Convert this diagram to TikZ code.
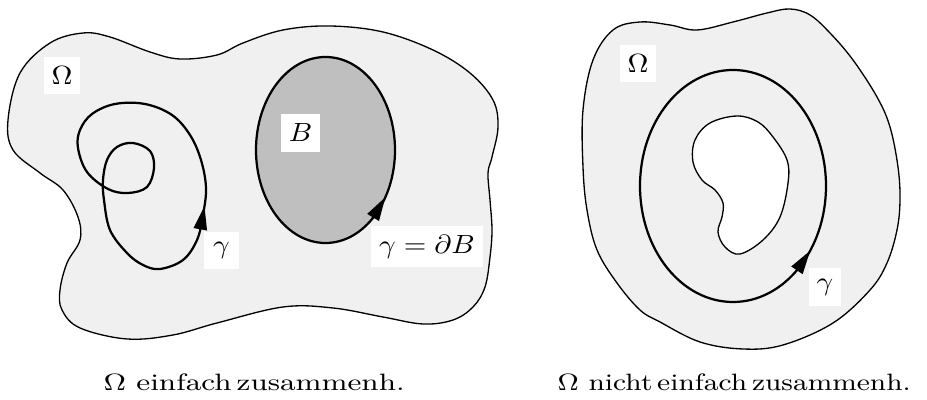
\documentclass[tikz,border=0pt]{standalone}
\usetikzlibrary{arrows.meta,calc}
\begin{document}
\begin{tikzpicture}[x=0.38pt,y=-0.38pt,
    gebiet/.style={fill=black!6,draw,line width=0.5pt},
    kurve/.style={line width=0.85pt},
    pfeil/.style={line width=0.85pt,-{Triangle[length=9pt,width=5pt]}},
    lbl/.style={fill=white,inner xsep=3pt,minimum width=13.3pt,minimum height=14.4pt},
    unter/.style={anchor=base west,inner sep=0pt,font=\fontsize{9pt}{11pt}\selectfont}]
    \useasboundingbox (0,0) rectangle (927,400);
    % links: einfach zusammenhaengend
    \draw[gebiet] plot[smooth cycle,tension=0.6] coordinates {(8,120)(20,73)(50,43)(83,33)(110,37)(150,52)(180,59)(217,55)(243,43)(283,30)(330,26)(383,32)(433,50)(470,73)(493,100)(498,127)(492,157)(488,173)(490,200)(492,230)(490,257)(485,287)(473,307)(453,320)(423,324)(383,317)(333,308)(283,307)(217,323)(173,335)(127,339)(80,328)(62,310)(60,290)(67,263)(80,240)(78,217)(63,190)(40,173)(13,150)};
    \coordinate (bmitte) at (325.5,150);
    \draw[kurve,fill=black!25] (bmitte) ellipse [x radius=69.5,y radius=93];
    \draw[pfeil] ($(bmitte)+(47.5:69.5 and 93)$) -- ($(bmitte)+(30.5:69.5 and 93)$);
    \draw[kurve] plot[smooth cycle,tension=0.6] coordinates {(160,269)(183,260)(197,240)(203,215)(206,188)(201,160)(190,135)(172,115)(145,104)(115,104)(92,114)(80,130)(78,148)(87,172)(108,189)(128,193)(147,187)(154,168)(150,151)(133,143)(117,147)(107,160)(103,180)(104,200)(110,230)(127,253)(143,265)};
    \draw[pfeil] (200.5,228) -- (204.5,206);
    \node[lbl] (omegaL) at (62,75.5) {\scalebox{1.1}[1]{$\Omega$}};
    \node[lbl] (bname) at (300.5,133) {\scalebox{1.1}[1]{$B$}};
    \node[lbl] (gammaL) at (221.5,250.5) {\scalebox{1.1}[1]{$\gamma$}};
    \node[lbl] (gammaB) at (427,246.5) {\scalebox{1.1}[1]{$\gamma=\partial B$}};
    % rechts: mit Loch
    \draw[gebiet] plot[smooth cycle,tension=0.6] coordinates {(583,110)(593,60)(613,30)(640,22)(670,25)(697,30)(733,22)(767,13)(790,9)(810,15)(830,33)(853,60)(877,97)(890,127)(898,167)(900,200)(897,230)(887,263)(870,290)(833,323)(783,345)(743,349)(700,342)(660,322)(640,310)(617,283)(597,250)(587,210)(583,167)};
    \draw[fill=white,line width=0.5pt] plot[smooth cycle,tension=0.6] coordinates {(737,116)(758,122)(773,137)(787,160)(788,183)(780,217)(763,240)(740,254)(725,247)(718,232)(722,217)(723,203)(715,190)(702,180)(693,162)(695,140)(710,123)};
    \coordinate (rmitte) at (733,186);
    \draw[kurve] (rmitte) ellipse [x radius=93,y radius=116];
    \draw[pfeil] ($(rmitte)+(46.3:93 and 116)$) -- ($(rmitte)+(33.9:93 and 116)$);
    \node[lbl] (omegaR) at (638,63.5) {\scalebox{1.1}[1]{$\Omega$}};
    \node[lbl,minimum width=11.4pt] (gammaR) at (825,287) {\scalebox{1.1}[1]{$\gamma$}};
    % Unterschriften
    \node[unter] (capL) at (103,391) {\scalebox{1.28}[1]{$\Omega$ einfach\,zusammenh.}};
    \node[unter] (capR) at (557,391) {\scalebox{1.21}[1]{$\Omega$\ nicht\,einfach\,zusammenh.}};
\end{tikzpicture}
\end{document}
